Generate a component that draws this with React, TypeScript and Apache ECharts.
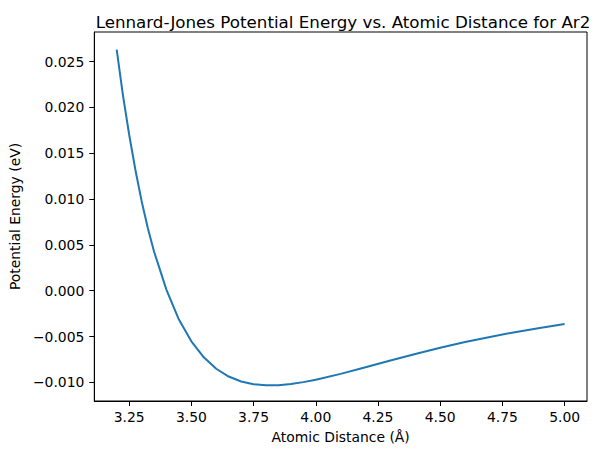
import { useEffect, useRef } from 'react';
import * as echarts from 'echarts';

// atomic distance (Å) and potential energy (eV)
const distances = [
  3.2, 3.225, 3.25, 3.275, 3.3, 3.325, 3.35, 3.4, 3.45, 3.5, 3.55, 3.6, 3.65, 3.7, 3.75,
  3.8, 3.85, 3.9, 3.95, 4.0, 4.1, 4.2, 4.3, 4.4, 4.5, 4.6, 4.7, 4.8, 4.9, 5.0,
];
const energies = [
  0.0263, 0.02135, 0.01705, 0.0132, 0.0098, 0.00685, 0.00428, 0.0001, -0.00314, -0.00552,
  -0.00726, -0.00851, -0.00936, -0.0099, -0.0102, -0.01032, -0.0103, -0.01018, -0.00997,
  -0.00971, -0.00907, -0.00835, -0.00762, -0.0069, -0.00623, -0.0056, -0.00504, -0.00452,
  -0.00406, -0.00364,
];

const xTicks = [3.25, 3.5, 3.75, 4.0, 4.25, 4.5, 4.75, 5.0];
const yTicks = [-0.01, -0.005, 0, 0.005, 0.01, 0.015, 0.02, 0.025];

const FONT = 'DejaVu Sans';

function fmt(v: number, digits: number) {
  const s = Math.abs(v).toFixed(digits);
  return v < -1e-9 ? '\u2212' + s : s;
}

export default function App() {
  const chartRef = useRef<HTMLDivElement>(null);

  useEffect(() => {
    document.body.style.margin = '0';
    if (!chartRef.current) return;
    const chart = echarts.init(chartRef.current, null, { renderer: 'svg' });

    chart.setOption({
      animation: false,
      backgroundColor: '#ffffff',
      textStyle: { fontFamily: FONT },
      title: {
        text: 'Lennard-Jones Potential Energy vs. Atomic Distance for Ar2',
        left: 338,
        top: 8,
        textAlign: 'center',
        textStyle: { fontFamily: FONT, fontSize: 16.7, fontWeight: 'normal', color: '#000' },
      },
      grid: {
        left: 90,
        right: 9,
        top: 32,
        bottom: 54,
        containLabel: false,
        show: true,
        borderColor: '#000',
        borderWidth: 1,
        backgroundColor: 'transparent',
      },
      xAxis: {
        type: 'value',
        min: 3.11,
        max: 5.09,
        name: 'Atomic Distance (Å)',
        nameLocation: 'middle',
        nameGap: 29,
        nameTextStyle: { fontFamily: FONT, fontSize: 13.9, color: '#000' },
        splitLine: { show: false },
        axisLine: { onZero: false, lineStyle: { color: '#000', width: 1 } },
        axisTick: { inside: false, length: 5, lineStyle: { color: '#000' }, customValues: xTicks },
        axisLabel: {
          customValues: xTicks,
          margin: 9,
          fontFamily: FONT,
          fontSize: 13.9,
          color: '#000',
          formatter: (v: number) => fmt(v, 2),
        },
      },
      yAxis: {
        type: 'value',
        min: -0.01203,
        max: 0.02823,
        name: 'Potential Energy (eV)',
        nameLocation: 'middle',
        nameGap: 66,
        nameRotate: 90,
        nameTextStyle: { fontFamily: FONT, fontSize: 13.9, color: '#000' },
        splitLine: { show: false },
        axisLine: { show: true, onZero: false, lineStyle: { color: '#000', width: 1 } },
        axisTick: { show: true, inside: false, length: 5, lineStyle: { color: '#000' }, customValues: yTicks },
        axisLabel: {
          customValues: yTicks,
          margin: 10,
          fontFamily: FONT,
          fontSize: 13.9,
          color: '#000',
          formatter: (v: number) => fmt(v, 3),
        },
      },
      series: [
        {
          type: 'line',
          data: distances.map((d, i) => [d, energies[i]]),
          showSymbol: false,
          lineStyle: { color: '#1f77b4', width: 2 },
        },
      ],
    });

    return () => {
      chart.dispose();
    };
  }, []);

  return <div ref={chartRef} style={{ width: 596, height: 455 }} />;
}
